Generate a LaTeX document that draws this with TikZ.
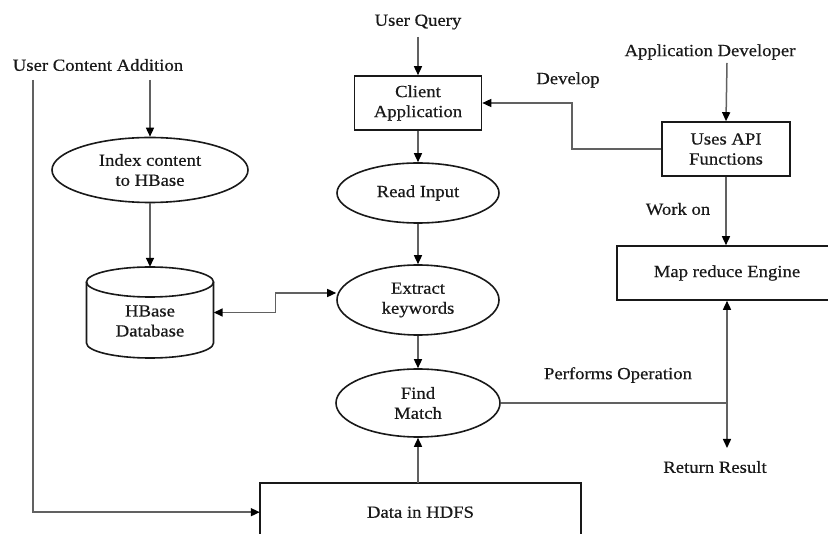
\documentclass[tikz,border=0pt]{standalone}
\usepackage{fontspec}
\setmainfont{Liberation Serif}[FakeStretch=1.1,FakeBold=0.5]
\usetikzlibrary{shapes.geometric,arrows.meta}
\begin{document}
\begin{tikzpicture}[x=1pt,y=-1pt,
  lbl/.style={font=\fontsize{17}{20}\selectfont, text=black!90, align=center, inner sep=0pt},
  boxnode/.style={lbl, draw=black!90, line width=1.6pt},
  ell/.style={lbl, ellipse, draw=black!90, line width=1.6pt},
  conn/.style={draw=black!62, line width=1.5pt},
  arr/.style={conn, -{Triangle[length=9pt,width=8pt,color=black]}},
  darr/.style={conn, {Triangle[length=9pt,width=8pt,color=black]}-{Triangle[length=9pt,width=8pt,color=black]}}]
\useasboundingbox (0,0) rectangle (828,534);
\fill[white] (0,0) rectangle (828,534);

% labels
\node[lbl] (uca) at (98,65) {User Content Addition};
\node[lbl] (uq) at (418,22) {User Query};
\node[lbl] (ad) at (710,52) {Application Developer};
\node[lbl] (dev) at (568,80) {Develop};
\node[lbl] (work) at (678,209) {Work on};
\node[lbl] (perf) at (618,375) {Performs Operation};
\node[lbl] (ret) at (715,467) {Return Result};

% shapes
\node[ell, minimum width=196pt, minimum height=65pt] (index) at (150,170) {Index content\\to HBase};
\node[boxnode, minimum width=127pt, minimum height=54pt] (client) at (418,103) {Client\\Application};
\node[ell, minimum width=162pt, minimum height=60pt] (read) at (418,193) {Read Input};
\node[ell, minimum width=162pt, minimum height=70pt] (extract) at (418,300) {Extract\\keywords};
\node[ell, minimum width=164pt, minimum height=68pt] (find) at (418,403) {Find\\Match};
\node[boxnode, minimum width=128pt, minimum height=54pt] (api) at (726,149) {Uses API\\Functions};
\node[boxnode, minimum width=220pt, minimum height=54pt] (mr) at (727,273) {Map reduce Engine};

% HBase cylinder
\node[inner sep=0pt, minimum width=127pt, minimum height=91pt] (hb) at (150,312.5) {};
\draw[line width=1.6pt, draw=black!90] (150,282) ellipse [x radius=63.5pt, y radius=15pt];
\draw[line width=1.6pt, draw=black!90] (86.5,282) -- (86.5,343) arc[start angle=180, end angle=360, x radius=63.5pt, y radius=15pt] -- (213.5,282);
\node[lbl] (hbtext) at (150,321) {HBase\\Database};

% Data in HDFS (open at bottom)
\node[lbl, minimum width=321pt, minimum height=58pt, anchor=north] (data) at (420.5,483) {Data in HDFS};
\draw[line width=1.6pt, draw=black!90] (data.south west) -- (data.north west) -- (data.north east) -- (data.south east);

% coordinates
\coordinate (ucaL) at (33,80);
\coordinate (ucaR) at (150,80);
\coordinate (uqs) at (418,37);
\coordinate (ads) at (727,63);
\coordinate (rrend) at (727,448);

% connectors
\draw[arr] (ucaR) -- (index.north);
\draw[arr] (ucaL) |- (data.west);
\draw[arr] (index.south) -- (hb.north);
\draw[darr] (hb.east) -- ++(62,0) |- ([yshift=7pt]extract.west);
\draw[arr] (uqs) -- (client.north);
\draw[arr] (client.south) -- (read.north);
\draw[arr] (read.south) -- (extract.north);
\draw[arr] (extract.south) -- (find.north);
\draw[arr] (data.north -| find.south) -- (find.south);
\draw[arr] (ads) -- (api.north);
\draw[arr] (api.west) -- ++(-89,0) |- (client.east);
\draw[arr] (api.south) -- (api.south |- mr.north);
\draw[darr] (mr.south) -- (rrend);
\draw[conn] (find.east) -- (find.east -| mr.south);
\end{tikzpicture}
\end{document}
